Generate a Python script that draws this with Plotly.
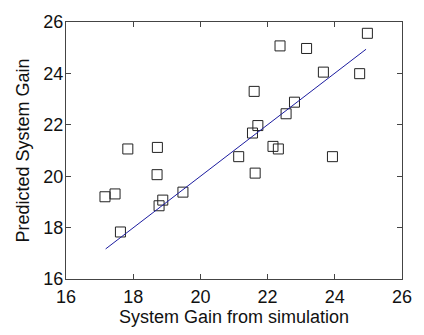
import plotly.graph_objects as go

# Simulated vs. predicted system gain (one square per case)
sim_gain = [24.97, 22.37, 23.16, 23.66, 24.74, 21.60, 22.80, 22.55, 21.71, 21.55,
            17.84, 18.72, 22.16, 22.32, 21.14, 23.93, 18.71, 21.63, 17.16, 17.46,
            18.88, 18.77, 19.48, 17.62]
pred_gain = [25.56, 25.07, 24.97, 24.05, 23.99, 23.30, 22.88, 22.43, 21.97, 21.68,
             21.06, 21.12, 21.16, 21.06, 20.76, 20.76, 20.06, 20.12, 19.20, 19.31,
             19.07, 18.85, 19.38, 17.83]

# Least-squares trend line end points
fit_x = [17.18, 24.93]
fit_y = [17.17, 24.94]

tick_vals = [16, 18, 20, 22, 24, 26]
tick_text = ["16", "18", "20", "22", "24", "26"]

font_family = "Liberation Sans, Arial, Helvetica, sans-serif"
frame_color = "#444444"

fig = go.Figure()
fig.add_trace(go.Scatter(
    x=sim_gain, y=pred_gain, mode="markers",
    marker=dict(symbol="square-open", size=10, color="#222222", line=dict(width=1)),
    showlegend=False,
))
fig.add_trace(go.Scatter(
    x=fit_x, y=fit_y, mode="lines",
    line=dict(color="#1c1ca0", width=1),
    showlegend=False,
))

axis_common = dict(
    tickvals=tick_vals, ticktext=tick_text,
    showgrid=False, zeroline=False,
    showline=True, linecolor=frame_color, linewidth=1,
    mirror="ticks", ticks="inside", ticklen=5, tickcolor=frame_color,
    tickfont=dict(family=font_family, size=18, color="#111111"),
)

fig.update_layout(
    width=424, height=335,
    margin=dict(l=66, r=13, t=14, b=52),
    paper_bgcolor="white", plot_bgcolor="white",
    font=dict(family=font_family, size=18, color="#111111"),
    xaxis=dict(range=[16, 26], ticklabelstandoff=1,
               title=dict(text="System Gain from simulation",
                          font=dict(size=18), standoff=4),
               **axis_common),
    yaxis=dict(range=[16, 26], ticklabelstandoff=-2,
               title=dict(text="Predicted System Gain",
                          font=dict(size=18), standoff=9),
               **axis_common),
)

fig.write_html("out.html")
